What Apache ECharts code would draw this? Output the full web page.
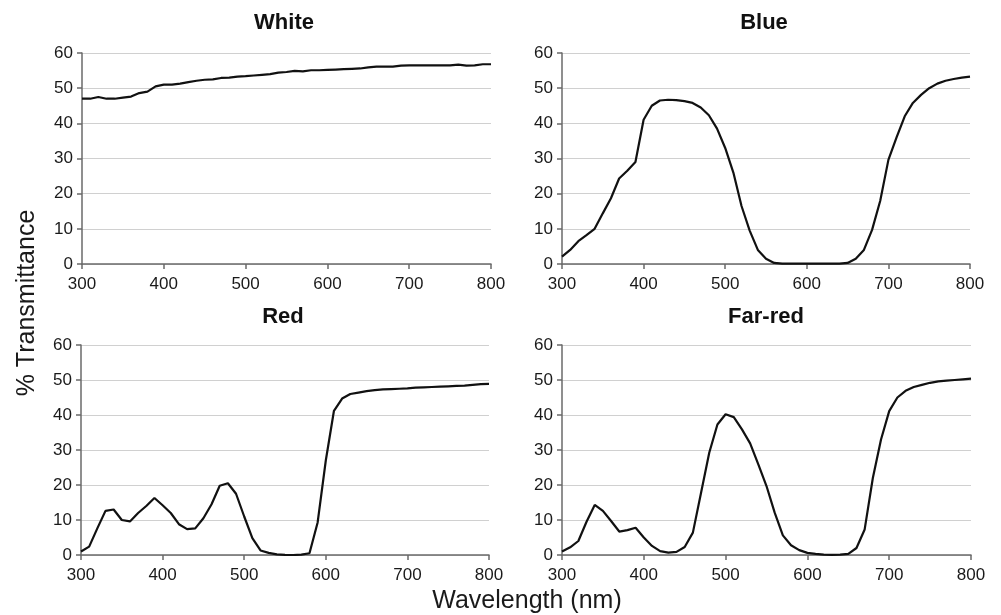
<!DOCTYPE html>
<html>
<head>
<meta charset="utf-8">
<script src="https://cdn.jsdelivr.net/npm/echarts@6/dist/echarts.min.js"></script>
<style>
  html, body { margin: 0; padding: 0; background: #fff; }
  #chart { width: 1001px; height: 615px; }
</style>
</head>
<body>
<div id="chart"></div>
<script>
// Wavelength samples (nm), 10 nm steps
const wavelengths = [];
for (let w = 300; w <= 800; w += 10) wavelengths.push(w);

const panelTitles = ['White', 'Blue', 'Red', 'Far-red'];

// % transmittance per filter, one value per wavelength sample
const whiteValues = [
  47.0, 47.0, 47.5, 47.0, 47.0, 47.3, 47.6, 48.6, 49.0, 50.5,
  51.0, 51.0, 51.3, 51.7, 52.1, 52.4, 52.5, 52.9, 53.0, 53.3,
  53.4, 53.6, 53.8, 54.0, 54.4, 54.6, 54.9, 54.8, 55.1, 55.1,
  55.2, 55.3, 55.4, 55.5, 55.6, 55.9, 56.1, 56.1, 56.1, 56.4,
  56.5, 56.5, 56.5, 56.5, 56.5, 56.5, 56.7, 56.4, 56.5, 56.8,
  56.8
];
const blueValues = [
  2.1, 4.0, 6.5, 8.2, 10.0, 14.4, 18.7, 24.3, 26.5, 29.0,
  41.0, 45.0, 46.5, 46.7, 46.6, 46.3, 45.8, 44.5, 42.3, 38.5,
  33.0, 26.0, 16.5, 9.5, 4.0, 1.5, 0.3, 0.1, 0.1, 0.1,
  0.1, 0.1, 0.1, 0.1, 0.1, 0.3, 1.5, 4.0, 9.7, 18.0,
  29.6, 36.0, 42.0, 45.8, 48.1, 50.0, 51.3, 52.1, 52.6, 53.0,
  53.3
];
const redValues = [
  1.0, 2.4, 7.6, 12.6, 13.0, 10.0, 9.6, 12.0, 14.0, 16.3,
  14.2, 12.0, 8.8, 7.4, 7.6, 10.5, 14.5, 19.8, 20.5, 17.5,
  11.0, 4.8, 1.3, 0.6, 0.2, 0.05, 0.0, 0.1, 0.5, 9.3,
  27.0, 41.2, 44.7, 46.0, 46.4, 46.8, 47.1, 47.3, 47.4, 47.5,
  47.6, 47.8, 47.9, 48.0, 48.1, 48.2, 48.3, 48.4, 48.6, 48.8,
  48.9
];
const farRedValues = [
  1.0, 2.2, 4.0, 9.5, 14.3, 12.6, 9.7, 6.7, 7.1, 7.8,
  5.0, 2.6, 1.1, 0.7, 0.9, 2.3, 6.4, 17.8, 29.2, 37.3,
  40.2, 39.4, 35.9, 31.9, 25.9, 19.7, 12.1, 5.6, 2.8, 1.4,
  0.6, 0.3, 0.1, 0.05, 0.1, 0.3, 2.0, 7.3, 22.0, 33.0,
  41.1, 45.0, 46.9, 48.0, 48.6, 49.2, 49.6, 49.8, 50.0, 50.2,
  50.4
];

const xTicks = [300, 400, 500, 600, 700, 800];
const yTicks = [0, 10, 20, 30, 40, 50, 60];

const panels = [whiteValues, blueValues, redValues, farRedValues];

// plot rectangles for the 2x2 layout
const grids = [
  { left: 82, top: 53, width: 409, height: 211 },
  { left: 562, top: 53, width: 408, height: 211 },
  { left: 81, top: 345, width: 408, height: 210 },
  { left: 562, top: 345, width: 409, height: 210 }
];
// panel heading anchors (centre x, top y)
const titleAnchors = [[284, 12], [764, 12], [283, 306], [766, 306]];

const FONT = '"Liberation Sans", Arial, sans-serif';
const axisGray = '#6a6a6a';
const textColor = '#1a1a1a';

const chart = echarts.init(document.getElementById('chart'), null, { renderer: 'canvas' });

const option = {
  animation: false,
  backgroundColor: '#ffffff',
  title: titleAnchors.map((a, i) => ({
    text: panelTitles[i],
    left: a[0],
    top: a[1],
    textAlign: 'center',
    padding: 0,
    textStyle: { fontFamily: FONT, fontSize: 22, fontWeight: 'bold', color: '#111' }
  })),
  grid: grids.map(g => Object.assign({ containLabel: false }, g)),
  xAxis: grids.map((g, i) => ({
    type: 'value',
    gridIndex: i,
    min: xTicks[0],
    max: xTicks[xTicks.length - 1],
    interval: 100,
    axisLine: { show: true, lineStyle: { color: axisGray, width: 1.5 } },
    axisTick: { show: true, length: 5, lineStyle: { color: axisGray, width: 1.5 } },
    axisLabel: { fontFamily: FONT, fontSize: 17, color: textColor, margin: 12,
      showMaxLabel: true, showMinLabel: true },
    splitLine: { show: false }
  })),
  yAxis: grids.map((g, i) => ({
    type: 'value',
    gridIndex: i,
    min: yTicks[0],
    max: yTicks[yTicks.length - 1],
    interval: 10,
    axisLine: { show: true, lineStyle: { color: axisGray, width: 1.5 } },
    axisTick: { show: true, length: 5, lineStyle: { color: axisGray, width: 1.5 } },
    axisLabel: { fontFamily: FONT, fontSize: 17, color: textColor, margin: 9 },
    splitLine: { show: true, lineStyle: { color: '#d0d0d0', width: 1.2 } }
  })),
  series: panels.map((vals, i) => ({
    type: 'line',
    xAxisIndex: i,
    yAxisIndex: i,
    data: wavelengths.map((w, k) => [w, vals[k]]),
    symbol: 'none',
    smooth: false,
    lineStyle: { color: '#111111', width: 2.2 }
  })),
  graphic: [
    {
      type: 'text',
      x: 527,
      y: 601,
      style: { text: 'Wavelength (nm)', font: '25px ' + FONT, fill: textColor,
        textAlign: 'center', textVerticalAlign: 'middle' }
    },
    {
      type: 'text',
      x: 27,
      y: 303,
      rotation: Math.PI / 2,
      style: { text: '% Transmittance', font: '25px ' + FONT, fill: textColor,
        textAlign: 'center', textVerticalAlign: 'middle' }
    }
  ]
};

chart.setOption(option);
</script>
</body>
</html>
